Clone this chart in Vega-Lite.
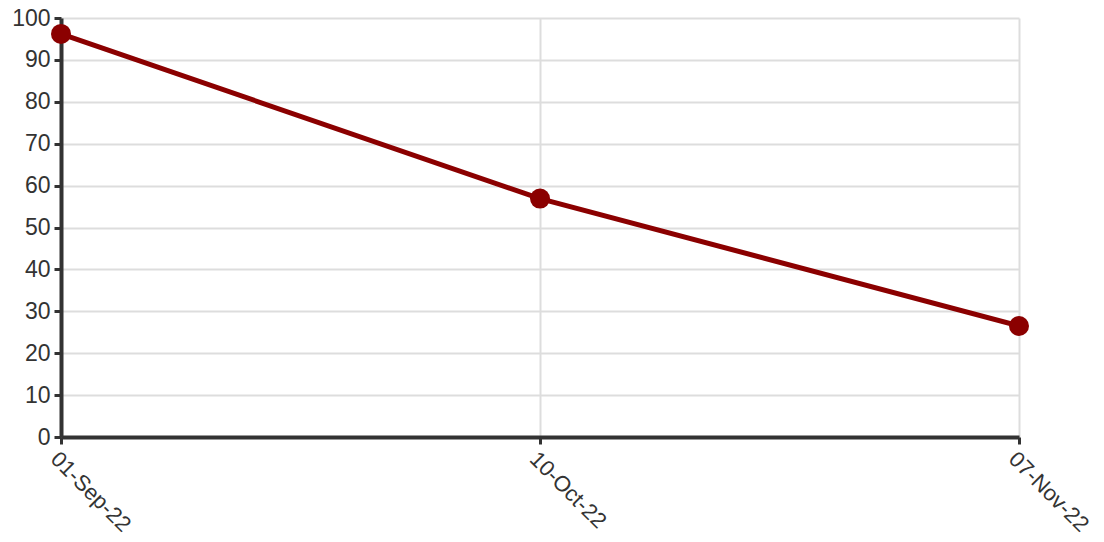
{
  "$schema": "https://vega.github.io/schema/vega-lite/v6.json",
  "autosize": "none",
  "width": 958,
  "height": 419,
  "padding": {"left": 61, "top": 18, "right": 85, "bottom": 105},
  "background": "white",
  "data": {"values": [
    {"date": "01-Sep-22", "value": 96.2},
    {"date": "10-Oct-22", "value": 56.9},
    {"date": "07-Nov-22", "value": 26.5}
  ]},
  "config": {
    "view": {"stroke": null},
    "axis": {
      "labelFont": "Liberation Sans",
      "labelColor": "#333",
      "labelOverlap": false,
      "domainColor": "#333",
      "domainWidth": 4,
      "tickColor": "#333",
      "tickWidth": 3,
      "tickSize": 7,
      "gridColor": "#ddd",
      "gridWidth": 2,
      "title": null
    }
  },
  "encoding": {
    "x": {"field": "date", "type": "ordinal", "sort": null,
      "scale": {"type": "point", "padding": 0},
      "axis": {"labelAngle": 45, "labelAlign": "left", "labelBaseline": "top", "grid": true, "labelPadding": 4, "labelFontSize": 22, "labelFont": "Liberation Sans"}},
    "y": {"field": "value", "type": "quantitative",
      "scale": {"domain": [0, 100], "nice": false},
      "axis": {"values": [0,10,20,30,40,50,60,70,80,90,100], "grid": true, "labelPadding": 4, "labelFontSize": 23, "labelFont": "Liberation Sans"}}
  },
  "layer": [
    {"mark": {"type": "line", "color": "#8b0000", "strokeWidth": 5}},
    {"mark": {"type": "point", "filled": true, "color": "#8b0000", "size": 400, "opacity": 1}}
  ]
}
